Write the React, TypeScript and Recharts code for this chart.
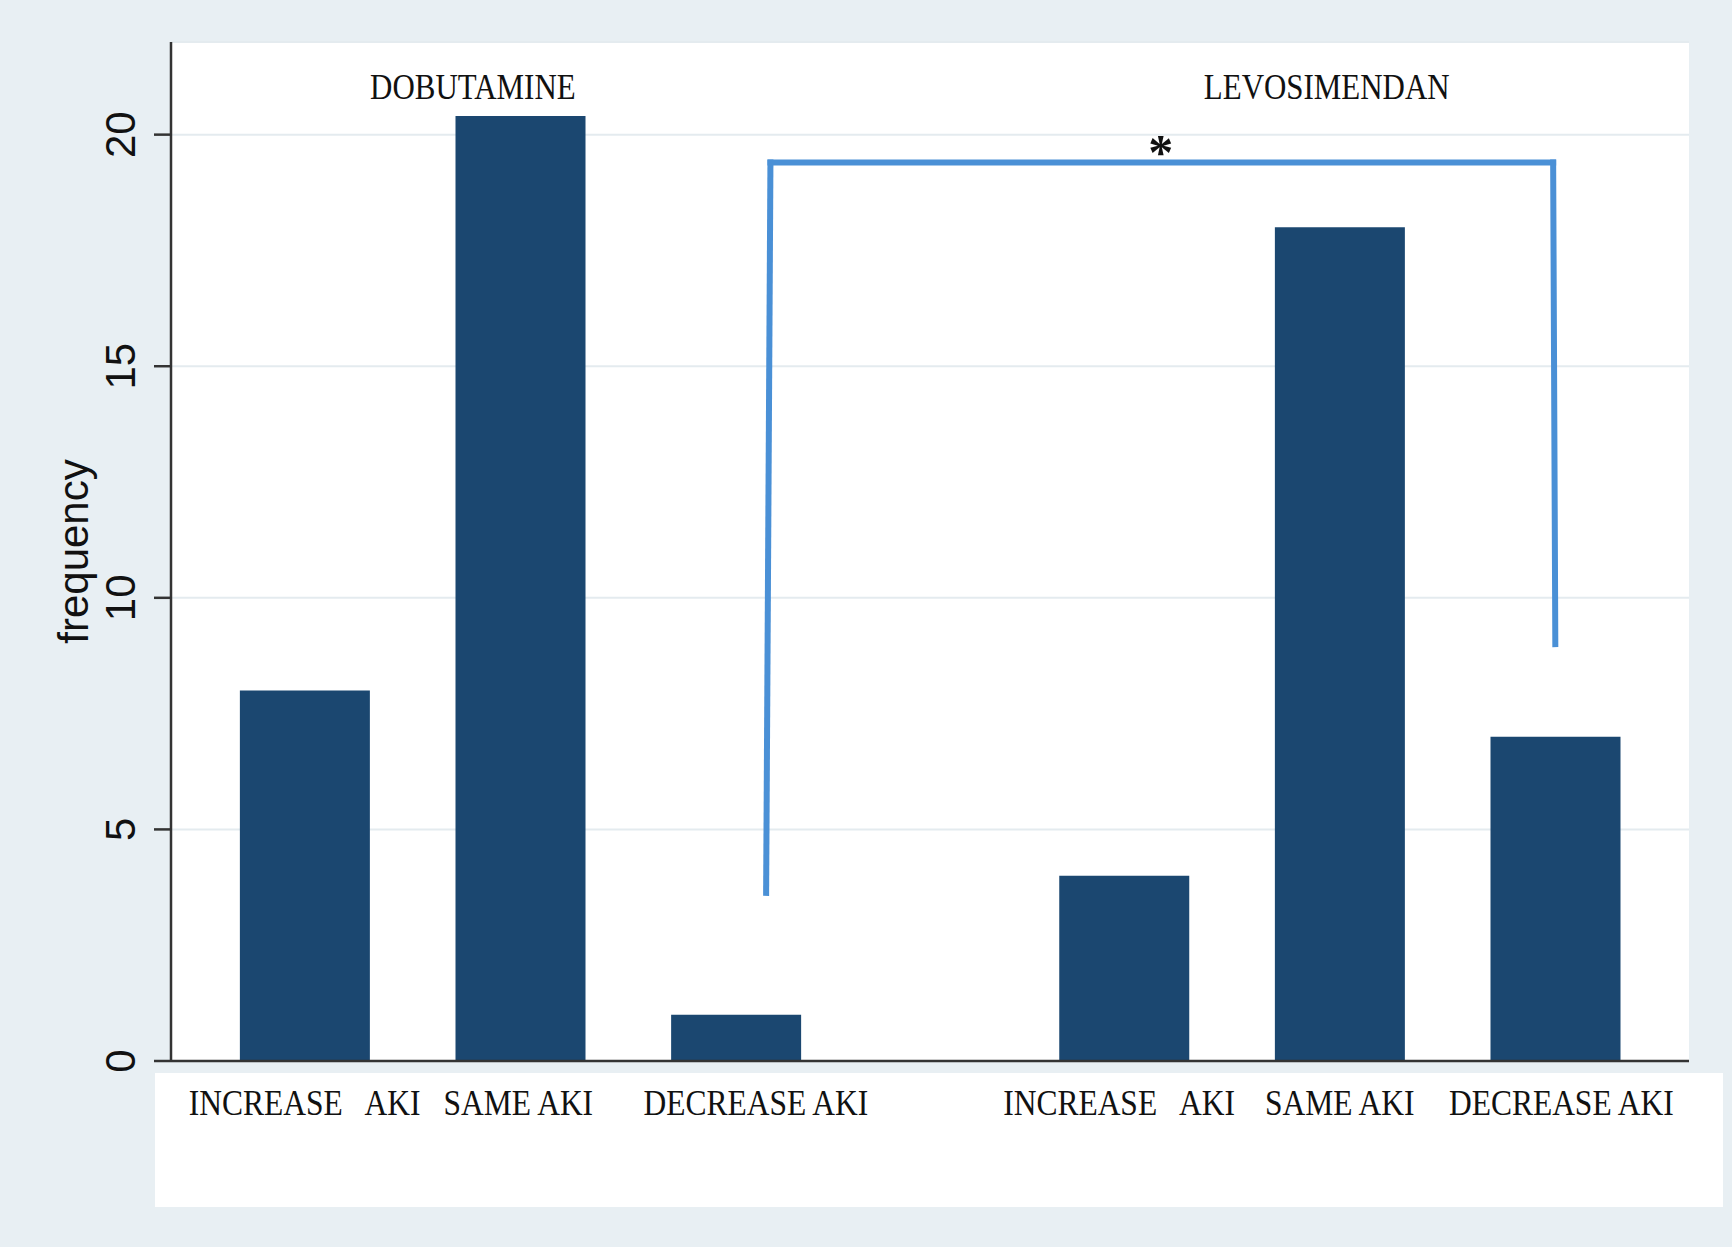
import React from 'react';
import {
	Bar,
	CartesianGrid,
	ComposedChart,
	ReferenceDot,
	ReferenceLine,
	XAxis,
	YAxis,
} from 'recharts';

// bar slots on a numeric axis (second group starts after a gap)
const barPositions = [0, 1, 2, 3.8, 4.8, 5.8];
const barLabels = [
	'INCREASE   AKI',
	'SAME AKI',
	'DECREASE AKI',
	'INCREASE   AKI',
	'SAME AKI',
	'DECREASE AKI',
];
const frequency = [8, 20.4, 1, 4, 18, 7];

const yTicks = [0, 5, 10, 15, 20];

const groupTitles = ['DOBUTAMINE', 'LEVOSIMENDAN'];
const groupTitleX = [0.78, 4.74];
const groupTitleY = 20.77;

// significance bracket (x, frequency)
const bracketX = [2.14, 2.16, 5.79, 5.8];
const bracketY = [3.63, 19.4, 19.4, 9.0];
const starX = 3.97;
const starY = 19.25;

const data = barPositions.map((pos, i) => ({
	pos,
	label: barLabels[i],
	value: frequency[i],
}));

const bracketSegments = bracketX.slice(1).map((x, i) => [
	{ x: bracketX[i], y: bracketY[i] },
	{ x, y: bracketY[i + 1] },
]);

const BAR_COLOR = '#1b4770';
const BRACKET_COLOR = '#4a90d6';
const AXIS_COLOR = '#333';
const SERIF = "'Liberation Serif', 'Times New Roman', serif";
const SANS = "'Liberation Sans', Arial, sans-serif";

// the labels in the original sit slightly off their bars
const LABEL_DX = [0, -2, 20, -5, 0, 6];

// condensed serif text, as in the Stata export
const Condensed = (props: { x: number; y: number; size: number; sx: number; children: string }) => (
	<g transform={`translate(${props.x}, ${props.y}) scale(${props.sx}, 1)`}>
		<text
			x={0}
			y={0}
			textAnchor="middle"
			fontFamily={SERIF}
			fontSize={props.size}
			fill="#111"
			style={{ whiteSpace: 'pre' }}
		>
			{props.children}
		</text>
	</g>
);

const XTick = (props: any) => {
	const { x, y, payload } = props;
	const idx = barPositions.indexOf(payload.value);
	if (idx < 0) return null;
	return (
		<Condensed x={x + LABEL_DX[idx]} y={y + 46} size={35} sx={0.9}>
			{barLabels[idx]}
		</Condensed>
	);
};

const YTick = (props: any) => {
	const { x, y, payload } = props;
	const bx = x - 19;
	return (
		<text
			x={bx}
			y={y}
			transform={`rotate(-90, ${bx}, ${y})`}
			textAnchor="middle"
			fontFamily={SANS}
			fontSize={42}
			fill="#111"
		>
			{payload.value}
		</text>
	);
};

const YLabel = (props: any) => {
	const { viewBox } = props;
	const x = viewBox.x + 88;
	const y = viewBox.y + viewBox.height / 2;
	return (
		<text
			x={x}
			y={y}
			transform={`rotate(-90, ${x}, ${y})`}
			textAnchor="middle"
			fontFamily={SANS}
			fontSize={42}
			fill="#111"
		>
			frequency
		</text>
	);
};

export default function App() {
	return (
		<div
			style={{
				position: 'absolute',
				left: 0,
				top: 0,
				width: 1732,
				height: 1247,
				background: '#e8eff3',
			}}
		>
			{/* white band behind the category labels */}
			<div
				style={{
					position: 'absolute',
					left: 155,
					top: 1073,
					width: 1568,
					height: 134,
					background: '#fff',
				}}
			/>
			<div style={{ position: 'absolute', left: 0, top: 0 }}>
				<ComposedChart
					width={1732}
					height={1247}
					data={data}
					margin={{ top: 42, right: 43, bottom: 0, left: 0 }}
				>
					<CartesianGrid
						vertical={false}
						stroke="#e4ebef"
						strokeWidth={2}
						fill="#fff"
					/>
					<XAxis
						dataKey="pos"
						type="number"
						domain={[-0.62, 6.42]}
						ticks={barPositions}
						interval={0}
						allowDataOverflow
						height={186}
						tickLine={false}
						axisLine={{ stroke: AXIS_COLOR, strokeWidth: 2.5 }}
						tick={<XTick />}
					/>
					<YAxis
						type="number"
						domain={[0, 22]}
						ticks={yTicks}
						width={171}
						tickSize={17}
						tickMargin={0}
						tickLine={{ stroke: AXIS_COLOR, strokeWidth: 2.5 }}
						axisLine={{ stroke: AXIS_COLOR, strokeWidth: 2.5 }}
						tick={<YTick />}
						label={<YLabel />}
					/>
					<Bar
						dataKey="value"
						fill={BAR_COLOR}
						barSize={130}
						isAnimationActive={false}
					/>
					{bracketSegments.map((seg, i) => (
						<ReferenceLine
							key={`br-${i}`}
							segment={seg}
							stroke={BRACKET_COLOR}
							strokeWidth={6}
							strokeLinecap="square"
							ifOverflow="visible"
						/>
					))}
					{groupTitles.map((t, i) => (
						<ReferenceDot
							key={t}
							x={groupTitleX[i]}
							y={groupTitleY}
							r={0}
							ifOverflow="visible"
							shape={(p: any) => (
								<Condensed x={p.cx} y={p.cy} size={36} sx={0.86}>
									{t}
								</Condensed>
							)}
						/>
					))}
					<ReferenceDot
						x={starX}
						y={starY}
						r={0}
						ifOverflow="visible"
						shape={(p: any) => (
							<text
								x={p.cx}
								y={p.cy}
								textAnchor="middle"
								fontFamily={SERIF}
								fontSize={50}
								fontWeight="bold"
								fill="#111"
							>
								*
							</text>
						)}
					/>
				</ComposedChart>
			</div>
		</div>
	);
}
